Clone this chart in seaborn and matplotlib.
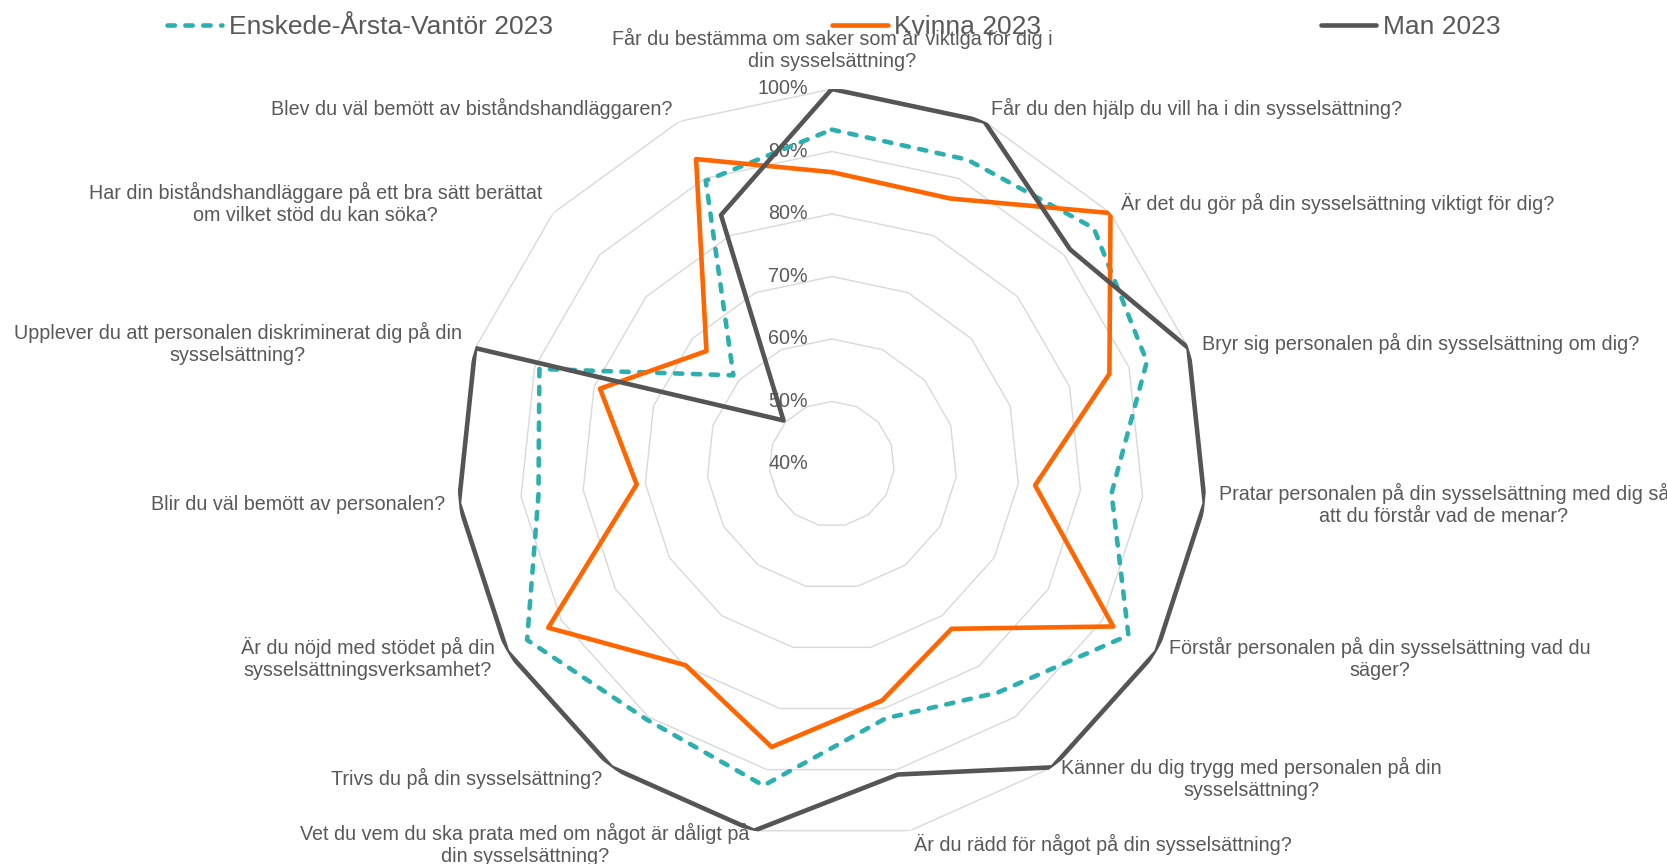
import numpy as np
import pandas as pd
import matplotlib
matplotlib.use("Agg")
import matplotlib.pyplot as plt
import seaborn as sns

categories = [
    "Får du bestämma om saker som är viktiga för dig i\ndin sysselsättning?",
    "Får du den hjälp du vill ha i din sysselsättning?",
    "Är det du gör på din sysselsättning viktigt för dig?",
    "Bryr sig personalen på din sysselsättning om dig?",
    "Pratar personalen på din sysselsättning med dig så\natt du förstår vad de menar?",
    "Förstår personalen på din sysselsättning vad du\nsäger?",
    "Känner du dig trygg med personalen på din\nsysselsättning?",
    "Är du rädd för något på din sysselsättning?",
    "Vet du vem du ska prata med om något är dåligt på\ndin sysselsättning?",
    "Trivs du på din sysselsättning?",
    "Är du nöjd med stödet på din\nsysselsättningsverksamhet?",
    "Blir du väl bemött av personalen?",
    "Upplever du att personalen diskriminerat dig på din\nsysselsättning?",
    "Har din biståndshandläggare på ett bra sätt berättat\nom vilket stöd du kan söka?",
    "Blev du väl bemött av biståndshandläggaren?",
]

enskede = [93.5, 93.3, 96.4, 93.0, 85.0, 94.8, 85.2, 81.6, 92.6, 90.5, 96.3, 87.2, 89.2, 61.2, 89.6]
kvinna = [86.7, 86.5, 100.0, 86.7, 72.7, 92.0, 72.6, 78.7, 86.3, 79.8, 92.4, 71.4, 79.0, 67.0, 93.4]
man = [100.0, 100.0, 91.3, 100.0, 100.0, 100.0, 100.0, 90.8, 100.0, 100.0, 100.0, 100.0, 100.0, 50.4, 83.6]

series_names = ["Enskede-Årsta-Vantör 2023", "Kvinna 2023", "Man 2023"]
series_values = [enskede, kvinna, man]
series_colors = ["#2CB0AF", "#FF6600", "#555555"]

r_ticks = [40, 50, 60, 70, 80, 90, 100]
grey_text = "#595959"

sns.set_style("white")
plt.rcParams["font.family"] = ["Liberation Sans", "DejaVu Sans"]

n = len(categories)
theta = np.linspace(0, 2 * np.pi, n, endpoint=False)
theta_closed = np.append(theta, 2 * np.pi)

fig = plt.figure(figsize=(16.67, 8.64), dpi=100)
ax = fig.add_axes([0.274, 0.029, 0.45, 0.868], projection="polar")
ax.set_theta_zero_location("N")
ax.set_theta_direction(-1)
ax.set_ylim(40, 100)
ax.grid(False)
ax.spines["polar"].set_visible(False)
ax.set_xticks([])
ax.set_yticks([])

# polygon rings
for r in r_ticks[1:]:
    ax.plot(theta_closed, [r] * (n + 1), color="#D9D9D9", lw=1.0, zorder=1)

rows = []
for name, vals in zip(series_names, series_values):
    closed = list(vals) + [vals[0]]
    for t, v in zip(theta_closed, closed):
        rows.append({"series": name, "theta": t, "value": v})
df = pd.DataFrame(rows)

handles = []
for name, color in zip(series_names, series_colors):
    sub = df[df["series"] == name]
    kw = dict(color=color, lw=3.3, zorder=3)
    if name.startswith("Enskede"):
        kw.update(linestyle=(0, (1.6, 2.3)), dash_capstyle="round")
    sns.lineplot(data=sub, x="theta", y="value", sort=False, estimator=None,
                 ax=ax, legend=False, **kw)
    handles.append(ax.get_lines()[-1])

ax.set_xlabel("")
ax.set_ylabel("")
ax.set_ylim(40, 100)

fs = 14.2

# radial tick labels
for r in r_ticks:
    ax.annotate(f"{r}%", xy=(0, r), xytext=(-24, 0), textcoords="offset pixels",
                ha="right", va="center", fontsize=fs, color=grey_text, zorder=2)

# category labels
for t, lab in zip(theta, categories):
    s, c = np.sin(t), np.cos(t)
    if abs(s) < 0.05:
        ax.annotate(lab, xy=(t, 100), xytext=(0, 18), textcoords="offset pixels",
                    ha="center", va="bottom", multialignment="center",
                    fontsize=fs, color=grey_text)
        continue
    ha = "left" if s > 0 else "right"
    dx = 12 * abs(s) * np.sign(s) + 2 * np.sign(s)
    dy = 14 * c
    ax.annotate(lab, xy=(t, 100), xytext=(dx, dy), textcoords="offset pixels",
                ha=ha, va="center", multialignment="center",
                fontsize=fs, color=grey_text)

leg = fig.legend(handles, series_names, loc="center", bbox_to_anchor=(0.5, 0.969),
                 ncol=3, frameon=False, fontsize=19, handlelength=2.1,
                 handletextpad=0.25, columnspacing=10.6, labelcolor=grey_text)

fig.savefig("out.png", dpi=100, facecolor="white")
